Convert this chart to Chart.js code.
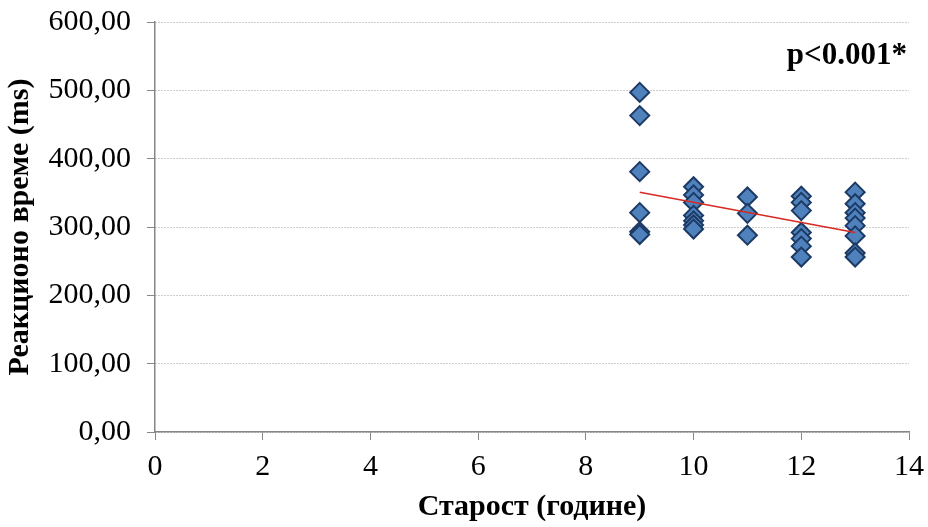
<!DOCTYPE html>
<html>
<head>
<meta charset="utf-8">
<script src="https://cdn.jsdelivr.net/npm/chart.js@4/dist/chart.umd.min.js"></script>
<style>
  html, body { margin: 0; padding: 0; background: #ffffff; }
  #wrap { width: 928px; height: 527px; position: relative; }
</style>
</head>
<body>
<div id="wrap"><canvas id="c" width="928" height="527"></canvas></div>
<script>
// ---- data ----
const ages9  = [9, 9, 9, 9, 9, 9];
const rt9    = [497, 463, 381, 321, 293, 289];
const ages10 = [10, 10, 10, 10, 10, 10, 10];
const rt10   = [359, 347, 336, 317, 309, 303, 297];
const ages11 = [11, 11, 11];
const rt11   = [344, 320, 288];
const ages12 = [12, 12, 12, 12, 12, 12, 12];
const rt12   = [345, 336, 324, 292, 283, 272, 256];
const ages13 = [13, 13, 13, 13, 13, 13, 13, 13];
const rt13   = [351, 334, 321, 313, 302, 287, 262, 256];
const trendAges = [9, 13];
const trendRT   = [351, 292];
const xTicks = [0, 2, 4, 6, 8, 10, 12, 14];
const yTicks = [0, 100, 200, 300, 400, 500, 600];
const xTitle = 'Старост (године)';
const yTitle = 'Реакционо време (ms)';
const pLabel = 'p<0.001*';

const allAges = [].concat(ages9, ages10, ages11, ages12, ages13);
const allRT = [].concat(rt9, rt10, rt11, rt12, rt13);
const points = allAges.map((a, i) => ({ x: a, y: allRT[i] }));
const trend = trendAges.map((a, i) => ({ x: a, y: trendRT[i] }));

const serif = '"Liberation Serif", "Times New Roman", serif';

const pPlugin = {
  id: 'pLabel',
  afterDraw(chart) {
    const ctx = chart.ctx;
    ctx.save();
    ctx.font = 'bold 31px ' + serif;
    ctx.fillStyle = '#000000';
    ctx.textAlign = 'right';
    ctx.textBaseline = 'alphabetic';
    ctx.fillText(pLabel, chart.chartArea.right - 2, chart.chartArea.top + 42);
    ctx.restore();
  }
};

new Chart(document.getElementById('c'), {
  type: 'scatter',
  data: {
    datasets: [
      {
        type: 'line',
        data: trend,
        borderColor: '#d62a22',
        borderWidth: 1.5,
        pointRadius: 0,
        fill: false,
        order: 1
      },
      {
        data: points,
        pointStyle: 'rectRot',
        pointRadius: 9.5,
        pointHoverRadius: 9.5,
        backgroundColor: '#4f81bd',
        borderColor: '#1c3a63',
        borderWidth: 2,
        order: 2
      }
    ]
  },
  plugins: [pPlugin],
  options: {
    responsive: false,
    animation: false,
    layout: { padding: { top: 22, right: 19, bottom: 0, left: 0 } },
    plugins: { legend: { display: false }, tooltip: { enabled: false } },
    scales: {
      x: {
        type: 'linear',
        min: 0, max: 14,
        afterBuildTicks(s) { s.ticks = xTicks.map(v => ({ value: v })); },
        afterFit(s) { s.height = 95; s.paddingLeft = 0; s.paddingRight = 0; },
        ticks: {
          color: '#000000',
          font: { family: serif, size: 30 },
          padding: 9,
          maxRotation: 0
        },
        grid: {
          drawOnChartArea: false,
          drawTicks: true,
          tickLength: 8,
          tickColor: '#868686',
          color: '#868686'
        },
        border: { color: '#868686', width: 1.5 },
        title: {
          display: true,
          text: xTitle,
          color: '#000000',
          font: { family: serif, size: 30, weight: 'bold' },
          padding: { top: 8, bottom: 2 }
        }
      },
      y: {
        type: 'linear',
        min: 0, max: 600,
        afterBuildTicks(s) { s.ticks = yTicks.map(v => ({ value: v })); },
        afterFit(s) { s.width = 155; s.paddingTop = 0; s.paddingBottom = 0; },
        ticks: {
          color: '#000000',
          font: { family: serif, size: 30 },
          padding: 16,
          callback: v => v.toFixed(2).replace('.', ',')
        },
        grid: {
          drawOnChartArea: true,
          drawTicks: true,
          tickLength: 8,
          color: '#9a9a9a',
          lineWidth: 1,
          tickColor: '#868686',
          tickBorderDash: [1, 0],
        },
        border: { color: '#868686', width: 1.5, dash: [1, 2] },
        title: {
          display: true,
          text: yTitle,
          color: '#000000',
          font: { family: serif, size: 30, weight: 'bold' },
          padding: { top: 2, bottom: 4 }
        }
      }
    }
  }
});
</script>
</body>
</html>
